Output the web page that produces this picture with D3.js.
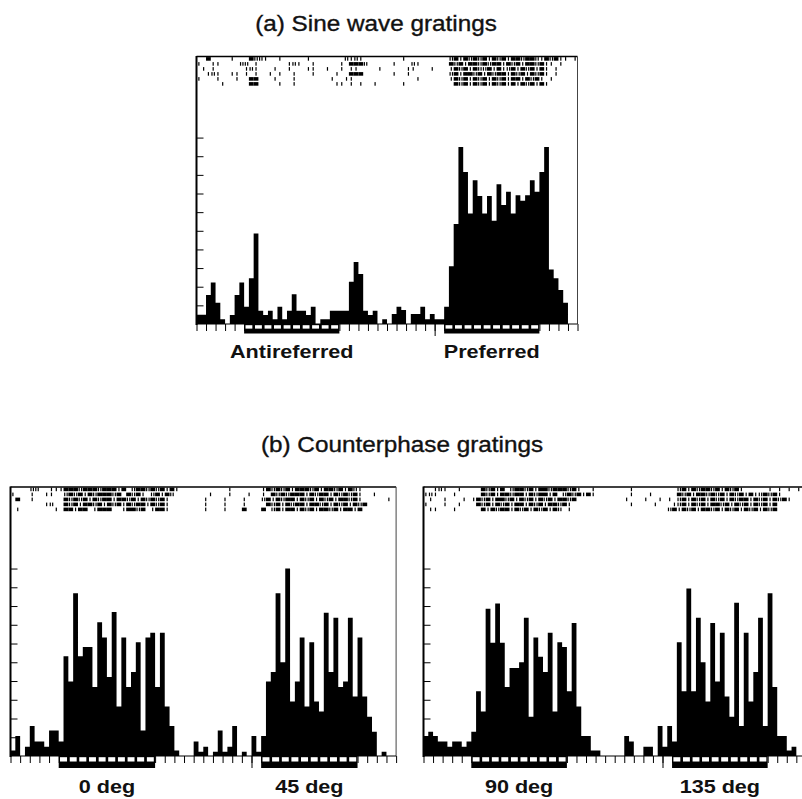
<!DOCTYPE html>
<html>
<head>
<meta charset="utf-8">
<script src="https://cdn.jsdelivr.net/npm/d3@7"></script>
<style>
  body { margin: 0; background: #fff; }
  svg { display: block; }
  text { font-family: "Liberation Sans", Arial, Helvetica, sans-serif; fill: #111; }
</style>
</head>
<body>
<div id="chart"></div>
<script>
// histogram heights, in y-tick units, 80 bins per sweep
let sineCounts = [
  0.5,0.5,1.55,2.23,1.14,0.25,0,0.48,1.55,2.23,
  0.93,2.45,4.86,0.71,0.48,0.71,0.25,0.93,0.25,0.71,
  1.59,0.71,0.71,0.48,0.93,0,0.25,0.25,0.71,0.71,
  0.71,0.71,2.27,3.32,2.68,0.71,0.48,0.71,0,0.25,
  0,0.54,0.93,0.75,0,0.54,0.54,0.93,0.25,0.54,
  0.25,0.25,0.93,3.1,5.36,9.5,8.16,5.93,7.71,6.86,
  5.93,6.86,5.54,7.5,6.38,7.09,5.93,6.91,6.61,6.91,
  7.71,7.09,8.16,9.5,2.93,2.45,1.82,1.14,0,0
];
let counterLeftCounts = [
  0.29,1.07,0,0.5,1.6,0.77,0.77,0.5,1.36,1.36,
  0.77,5.32,3.98,8.68,5.32,5.82,5.82,3.68,7.14,6.32,
  4.21,7.68,2.64,6.32,3.68,4.48,6.07,1.36,6.32,6.57,
  3.68,6.57,2.64,1.6,0.29,0,0,0,0.77,0.23,
  0.5,0,0.23,1.36,0.23,0.5,1.6,0,0.23,0,
  1.07,0.23,1.07,3.98,4.48,8.68,5.0,10.0,2.91,3.98,
  6.32,2.64,6.07,2.91,2.38,7.64,4.48,7.38,3.68,3.98,
  7.38,3.18,6.32,3.18,2.1,1.3,0,0.23,0,0
];
let counterRightCounts = [
  1.07,1.3,1.07,0.77,0.77,0.5,0.77,0.77,0.5,0.77,
  1.3,3.45,2.38,7.86,6.04,8.14,6.04,3.68,4.7,4.7,
  5.0,7.38,2.1,6.32,5.29,4.48,6.57,2.38,6.07,5.82,
  3.45,7.1,2.64,1.07,1.07,0.29,0.29,0,0,0,
  0,0,1.07,0.77,0,0,0.5,0.5,0,1.6,
  0.5,1.6,0.77,6.07,3.45,8.93,3.45,7.38,5.0,2.91,
  7.1,3.98,6.57,3.18,2.1,8.18,1.6,6.57,2.91,4.48,
  7.38,1.6,8.68,3.68,1.07,1.07,0.29,0.5,0,0
];

// spike rasters: one string per trial, one char per bin
// '.' nothing, digit = that many spikes, '#' = burst
let sineRaster = [
  "..#....1.. .#221..1.. ...1...... .2121..... ...1...... ...2#1#2#2 #1#2#1##2# #21#2#11.1",
  "1..11....2 2.1......1 21..1..... 1.###2.... .1...21... ...#2#1##2 #2##1#2#1# #2#11.1...",
  ".1.1...... 121...1..1 ...11..1.. 1.11....1. ....11...1 ...1#2#1#2 2#1#12#1#2 #1#1.1....",
  "..121..11. 1.1..1.1.. 1...1....1 ..###..... .1..1..... ...2#1##2# 1#2##1#2#1 #2#1.1....",
  "1...1...1. .##...1... 1.......1. .11....... ......1... ...1#2#1#2 #1#2#1##1# 2#1.1.....",
  ".....1.... .##....1.. 1........1 1.1.1..1.. ...1...... ....#2#1#2 #1#2#1#1#2 #1#1......"
];
let counterLeftRaster = [
  "....22..11 1###2###2# ##1#.2##2# 2#1#1..... .....1.... ..1#2#2#1# ##2#1##2#1 #21.......",
  "1...1..11. .2#2#1#2## #2#.#2#1.2 #1#2...... .1...1...1 ..1.#2#2## #1#2##1#2# 2#1..1....",
  ".#..1..... .#2#2#1#2# #1##2#1#2# 2#1....... 1...1...1. ..2#1#2##1 #2#1#2#1## 2#1.....1.",
  ".......12. .#2#1##2#1 #2#1#2##1# 2#1....... 1...1...1. ...#2#1#2# #1##2#1#2# 1#2#......",
  ".1.......1 .##1##.1## #..1##2#.1 ##1....... 1...1...#. ..#.2#1##1 #2#1##2#1# #1#......."
];
let counterRightRaster = [
  "..121..1.. ..#2#1#.2# #2#1##2### 2#1..1.... ...1...... ...2#1#2## 2#1#2#1... ..1.1.1.1.",
  "121...1... ..#2#1##2# #1#2##1#.2 #2#1#1.... ...1...1.. ...#2#1##2 #2#1#2#1#1 2#2#1.....",
  ".1..1...1. 1#2#1##2#1 #2#1#2#1## 2#........ ..1...1..1 .1.2#1#2#1 #2#1#2##1# 2#1#2#1...",
  "1...1..1.. .#2#1#2#1# #1#2#1##2# 1......... ...1....1. ..12#1#2#1 ##2#1#2#1# 2#1#......",
  ".11...1... ..#1#2##1# 2#1#2#1#2. 1......... .......... .2#1#2#1## 2#1#2#1#2# 1#2#......"
];

let stimBins = [[10, 30], [52, 72]];
let sineLabels = ["Antireferred", "Preferred"];
let counterLeftLabels = ["0 deg", "45 deg"];
let counterRightLabels = ["90 deg", "135 deg"];
let titles = ["(a) Sine wave gratings", "(b) Counterphase gratings"];
let yTicks = [1, 2, 3, 4, 5, 6, 7, 8, 9, 10];
let nBins = 80;
let splitBin = 50;
let yMax = 14.35;

let svg = d3.select('#chart')
  .append('svg')
  .attr('width', 802)
  .attr('height', 799)
  .style('background', '#fff');

let panels = [
  { x0: 196.5, w: 381, top: 56.5, base: 324, counts: sineCounts, raster: sineRaster, labels: sineLabels, labelY: 357.5, stimH: 9.5 },
  { x0: 10.5, w: 385.6, top: 487, base: 756, counts: counterLeftCounts, raster: counterLeftRaster, labels: counterLeftLabels, labelY: 793, stimH: 12 },
  { x0: 423.5, w: 382.4, top: 487, base: 756, counts: counterRightCounts, raster: counterRightRaster, labels: counterRightLabels, labelY: 793, stimH: 12 }
];

// horizontally stretched text, the scan's lettering is wide
function wideText(x, y, str, size, weight, sx) {
  return svg.append('text')
    .attr('transform', 'translate(' + x + ',' + y + ') scale(' + sx + ',1)')
    .attr('text-anchor', 'middle')
    .style('font-size', size + 'px')
    .style('font-weight', weight)
    .text(str);
}

function drawPanel(p) {
  let g = svg.append('g');

  let xS = d3.scaleBand().domain(d3.range(nBins)).range([p.x0, p.x0 + p.w]).padding(0);
  let xL = d3.scaleLinear().domain([0, nBins]).range([p.x0, p.x0 + p.w]);
  let yS = d3.scaleLinear().domain([0, yMax]).range([p.base, p.top]);

  // histogram as one stepped shape so the bins don't show seams
  let hist = d3.area()
    .x((d, i) => xL(i))
    .y0(p.base)
    .y1(d => yS(d))
    .curve(d3.curveStepAfter);
  g.append('path')
    .datum(p.counts.concat([p.counts[nBins - 1]]))
    .attr('d', hist)
    .attr('fill', '#000');

  // raster rows
  p.raster.forEach((row, r) => {
    let marks = [];
    row.replace(/ /g, '').split('').forEach((c, i) => {
      if (c === '#') {
        marks.push({ x: xS(i), w: xS.bandwidth() });
      } else if (c >= '1' && c <= '9') {
        let n = +c;
        for (let k = 0; k < n; k++) {
          marks.push({ x: xS(i) + xS.bandwidth() * (k + 0.5) / n - 0.6, w: 1.2 });
        }
      }
    });
    g.selectAll(null)
      .data(marks)
      .enter()
      .append('rect')
      .attr('x', d => d.x)
      .attr('width', d => d.w)
      .attr('y', p.top + 0.6 + r * 5)
      .attr('height', 3.6)
      .attr('fill', '#000');
  });

  // frame
  g.append('line')
    .attr('x1', xL(0)).attr('x2', xL(nBins))
    .attr('y1', p.top).attr('y2', p.top)
    .attr('stroke', '#000').attr('stroke-width', 1.5);
  g.append('line')
    .attr('x1', xL(nBins)).attr('x2', xL(nBins))
    .attr('y1', p.top).attr('y2', p.base)
    .attr('stroke', '#444').attr('stroke-width', 1);
  g.append('line')
    .attr('x1', xL(0)).attr('x2', xL(nBins))
    .attr('y1', p.base).attr('y2', p.base)
    .attr('stroke', '#000').attr('stroke-width', 1);

  // stimulus markers under the baseline
  stimBins.forEach(([s, e], k) => {
    g.append('rect')
      .attr('x', xL(s)).attr('width', xL(e) - xL(s))
      .attr('y', p.base).attr('height', p.stimH)
      .attr('fill', '#000');
    g.selectAll(null)
      .data(d3.range(s, e, 2))
      .enter()
      .append('rect')
      .attr('x', j => xL(j) + 1.3)
      .attr('width', j => xL(j + 2) - xL(j) - 2.6)
      .attr('y', p.base + 1.2)
      .attr('height', p.stimH * 0.36)
      .attr('fill', '#fff');
    wideText(xL((s + e) / 2), p.labelY, p.labels[k], 18, 'bold', 1.2);
  });

  // bottom ticks
  g.append('g')
    .attr('transform', 'translate(0,' + p.base + ')')
    .call(d3.axisBottom(xL).tickValues(d3.range(0, nBins + 1, 2)).tickSize(7).tickFormat(''))
    .call(a => a.select('.domain').remove());
  g.append('g')
    .attr('transform', 'translate(0,' + p.base + ')')
    .call(d3.axisBottom(xL).tickValues([splitBin]).tickSize(12).tickFormat(''))
    .call(a => a.select('.domain').remove());

  // left axis, ticks pointing inward
  g.append('g')
    .attr('transform', 'translate(' + p.x0 + ',0)')
    .call(d3.axisRight(yS).tickValues(yTicks).tickSize(7).tickFormat(''))
    .call(a => a.select('.domain').remove());
  g.append('line')
    .attr('x1', p.x0).attr('x2', p.x0)
    .attr('y1', p.top - 0.5).attr('y2', p.base + 1)
    .attr('stroke', '#000').attr('stroke-width', 2);
}

panels.forEach(drawPanel);

wideText(376, 31, titles[0], 21.5, 'normal', 1.13)
  .style('stroke', '#111').style('stroke-width', 0.35);
wideText(402, 452, titles[1], 21.5, 'normal', 1.13)
  .style('stroke', '#111').style('stroke-width', 0.35);
</script>
</body>
</html>
